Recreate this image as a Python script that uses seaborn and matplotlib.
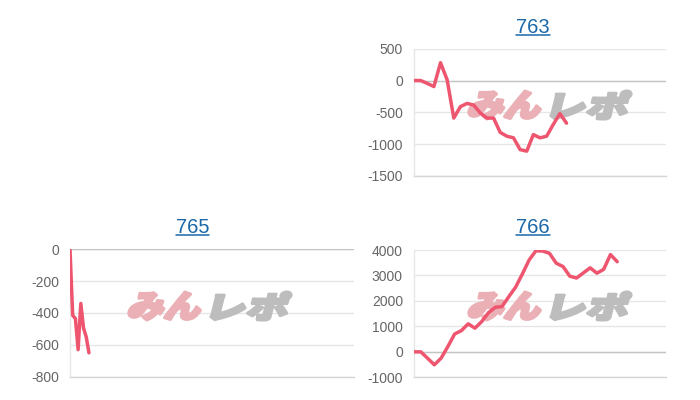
import numpy as np
import matplotlib
matplotlib.use('Agg')
import matplotlib.pyplot as plt
import seaborn as sns
from matplotlib.textpath import TextPath
from matplotlib.font_manager import FontProperties
from matplotlib.patches import PathPatch
from matplotlib.transforms import Affine2D, IdentityTransform
from matplotlib.lines import Line2D

# ---- data ----
titles = ['763', '765', '766']

vals_763 = [0, 0, -45, -95, 280, 10, -590, -410, -360, -385, -510, -590,
            -590, -815, -875, -900, -1085, -1110, -850, -900, -875, -690,
            -520, -670]
vals_765 = [0, -415, -435, -630, -340, -495, -550, -650]
vals_766 = [0, 0, -250, -510, -250, 210, 700, 835, 1100, 930, 1190, 1540,
            1750, 1780, 2170, 2540, 3060, 3610, 3970, 3960, 3870, 3480,
            3350, 2970, 2900, 3100, 3300, 3090, 3240, 3820, 3540]

yticks_763 = [500, 0, -500, -1000, -1500]
yticks_765 = [0, -200, -400, -600, -800]
yticks_766 = [4000, 3000, 2000, 1000, 0, -1000]

RED = '#ee5670'
GRID = '#e6e6e6'
ZERO = '#c4c4c4'
TICK_TXT = '#666666'
LINK = '#1a68a8'

sns.set_style('white')
plt.rcParams['font.family'] = ['Liberation Sans', 'DejaVu Sans']
plt.rcParams['axes.unicode_minus'] = False

W, H = 700, 400
fig = plt.figure(figsize=(7, 4), dpi=100)


def px_axes(left, top, right, bottom):
    return fig.add_axes([left / W, 1 - bottom / H, (right - left) / W, (bottom - top) / H])


def draw_panel(ax, vals, yticks, xmax):
    sns.lineplot(x=np.arange(len(vals)), y=vals, ax=ax, color=RED, lw=2.5, zorder=3)
    ax.set_xlim(0, xmax)
    ax.set_ylim(min(yticks), max(yticks))
    ax.set_yticks(yticks)
    ax.set_xticks([])
    ax.set_xlabel('')
    ax.set_ylabel('')
    ax.yaxis.grid(True, color=GRID, lw=1)
    ax.set_axisbelow(True)
    ax.axhline(0, color=ZERO, lw=1, zorder=1)
    ax.tick_params(axis='y', length=3, color=GRID, pad=5, labelsize=10,
                   labelcolor=TICK_TXT)
    for s in ['top', 'right']:
        ax.spines[s].set_visible(False)
    ax.spines['left'].set_color(GRID)
    ax.spines['bottom'].set_color('#d6d6d6')
    for s in ['left', 'bottom']:
        ax.spines[s].set_linewidth(1)


def add_logo(ax, x0, y_top, y_bot):
    # pink "みん" + gray "レポ" watermark, slanted and heavy
    fp = FontProperties(family=['Noto Sans CJK JP'], weight='heavy')
    h = y_bot - y_top
    parts = [('みん', x0, 78, '#eab0b5'), ('レポ', x0 + 83, 82, '#bdbdbd')]
    for txt, xl, w, col in parts:
        path = TextPath((0, 0), txt, size=100, prop=fp)
        ext = path.get_extents()
        slant = 0.25
        sx = (w - h * slant) / ext.width
        sy = h / ext.height
        tr = (Affine2D().translate(-ext.x0, -ext.y0).scale(sx, sy)
              .skew(np.arctan(slant), 0).translate(xl, H - y_bot))
        patch = PathPatch(tr.transform_path(path), facecolor=col, edgecolor=col,
                          lw=2.2, joinstyle='round',
                          transform=IdentityTransform(), zorder=1.5)
        ax.add_patch(patch)


ax763 = px_axes(414, 48.7, 666, 176)
ax765 = px_axes(70, 249.3, 354, 376.7)
ax766 = px_axes(414, 250, 666, 377.3)

draw_panel(ax763, vals_763, yticks_763, 38)
draw_panel(ax765, vals_765, yticks_765, 105)
draw_panel(ax766, vals_766, yticks_766, 37.2)

add_logo(ax763, 467, 91, 119)
add_logo(ax765, 127, 292, 320)
add_logo(ax766, 467, 292, 320)

# linked titles with underline
title_pos = [(533, 33.3), (192.5, 233.3), (533, 233.3)]
tobjs = []
for t, (tx, ty) in zip(titles, title_pos):
    tobjs.append(fig.text(tx / W, 1 - ty / H, t, ha='center', va='baseline',
                          fontsize=14.5, color=LINK))

fig.canvas.draw()
rend = fig.canvas.get_renderer()
for tobj, (tx, ty) in zip(tobjs, title_pos):
    bb = tobj.get_window_extent(rend)
    yy = 1 - (ty + 1.6) / H
    fig.add_artist(Line2D([bb.x0 / W, bb.x1 / W], [yy, yy], color=LINK, lw=1.1,
                          transform=fig.transFigure))

fig.savefig('out.png', dpi=100, facecolor='white')
